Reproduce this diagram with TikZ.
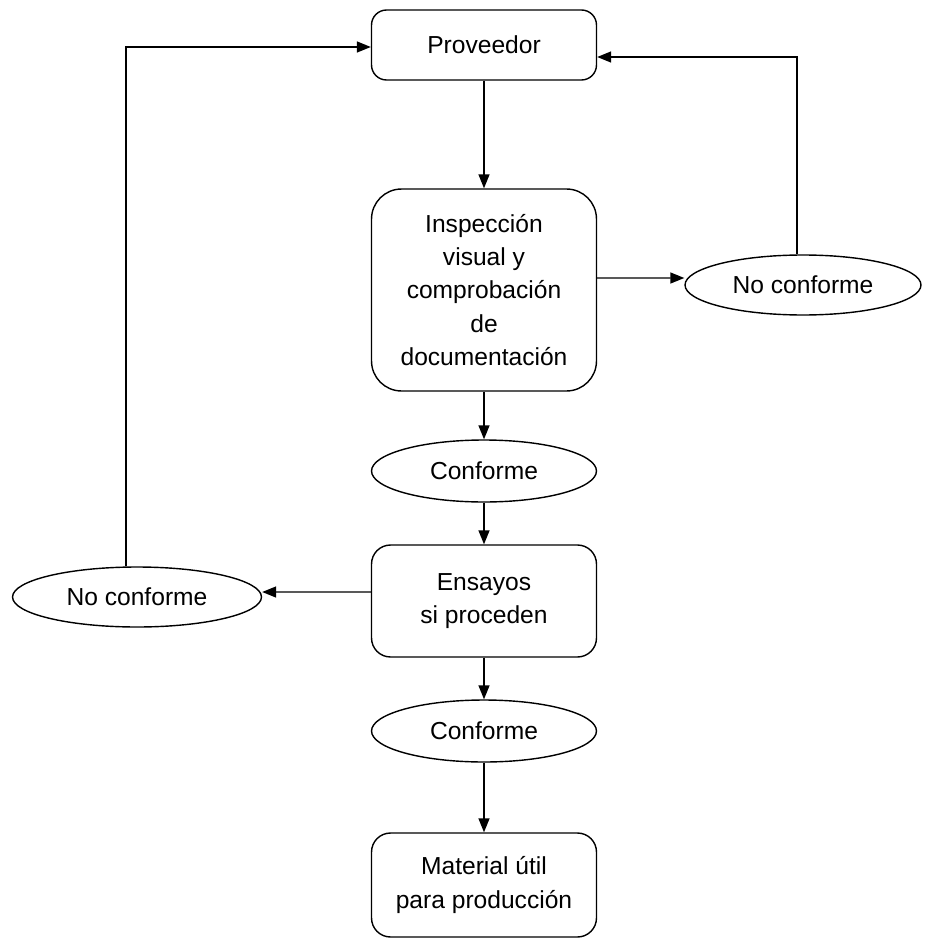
\documentclass[tikz,border=0pt]{standalone}
\usepackage{fontspec}
\setmainfont{Liberation Sans}
\usepackage{tikz}
\usetikzlibrary{calc,shapes.geometric,arrows.meta}

\tikzset{
	caja/.style={draw, rounded corners=0.38cm, line width=0.8pt, minimum width=4.5cm, align=center, inner sep=0pt, font=\fontsize{14}{19}\selectfont},
	elipse/.style={draw, ellipse, line width=0.8pt, minimum height=1.2cm, inner sep=0pt, font=\fontsize{14}{19}\selectfont},
	flecha/.style={line width=0.8pt, -{Triangle[length=0.28cm,width=0.22cm]}}
}

\begin{document}
\begin{tikzpicture}[x=0.02cm,y=-0.02cm]
			\useasboundingbox (0,0) rectangle (925,939);
			% columna central
			\node[caja, minimum height=1.4cm, rounded corners=0.3cm] (prov) at (484,45) {Proveedor};
			\node[caja, minimum height=4.04cm, rounded corners=0.6cm] (insp) at (484,290) {Inspecci\'on\\visual y\\comprobaci\'on\\de\\documentaci\'on};
			\node[elipse, minimum width=4.5cm, minimum height=1.24cm] (conf1) at (484,471) {Conforme};
			\node[caja, minimum height=2.24cm] (ens) at (484,601) {Ensayos\\si proceden};
			\node[elipse, minimum width=4.5cm, minimum height=1.24cm] (conf2) at (484,731) {Conforme};
			\node[caja, minimum height=2.08cm] (mat) at (484,885) {Material \'util\\para producci\'on};
			% ramas de rechazo
			\node[elipse, minimum width=4.72cm] (noR) at (803,285) {No conforme};
			\node[elipse, minimum width=4.98cm] (noL) at (137,597) {No conforme};

			\draw[flecha] (prov) -- (insp);
			\draw[flecha] (insp) -- (conf1);
			\draw[flecha] (conf1) -- (ens);
			\draw[flecha] (ens) -- (conf2);
			\draw[flecha] (conf2) -- (mat);

			\draw[flecha] ([yshift=0.24cm]insp.east) -- ([yshift=0.14cm]noR.west);
			\draw[flecha] ([yshift=0.18cm]ens.west) -- ([yshift=0.1cm]noL.east);

			\coordinate (rArr) at (797,57);
			\coordinate (lArr) at (126,47);
			\draw[flecha] (noR.north -| rArr) -- (rArr) -- (rArr -| prov.east);
			\draw[flecha] (noL.north -| lArr) -- (lArr) -- (lArr -| prov.west);
		\end{tikzpicture}
\end{document}
